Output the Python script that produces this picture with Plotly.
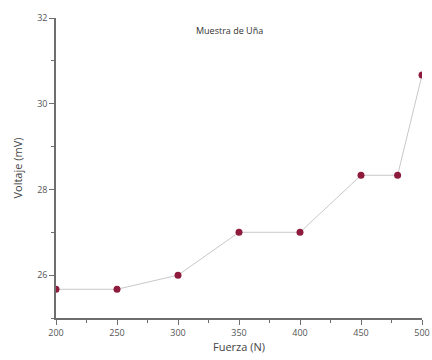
import plotly.graph_objects as go

fuerza = [200, 250, 300, 350, 400, 450, 480, 500]
voltaje = [25.67, 25.67, 26.0, 27.0, 27.0, 28.33, 28.33, 30.67]
x_ticks = [200, 250, 300, 350, 400, 450, 500]
y_ticks = [26, 28, 30, 32]

fig = go.Figure()
fig.add_trace(go.Scatter(
    x=fuerza, y=voltaje, mode="lines+markers",
    line=dict(color="#c8c8c8", width=1),
    marker=dict(color="#8e1b3c", size=7),
    cliponaxis=True,
))

axis_common = dict(
    showgrid=False, zeroline=False, showline=True, linecolor="#6e6e6e", linewidth=1.5,
    ticks="outside", ticklen=5, tickcolor="#6e6e6e", tickwidth=1, automargin=False,
    tickfont=dict(family="Open Sans", size=9, color="#555555"),
)

fig.update_layout(
    width=432, height=360,
    margin=dict(l=56, r=10, t=18, b=42),
    paper_bgcolor="white", plot_bgcolor="white",
    showlegend=False,
    font=dict(family="Open Sans", color="#444444"),
    xaxis=dict(range=[200, 500], tickvals=x_ticks,
               minor=dict(dtick=25, tick0=200, ticks="outside", ticklen=3, tickcolor="#6e6e6e"),
               title=dict(text="Fuerza (N)", font=dict(size=11, color="#444444"), standoff=6),
               **axis_common),
    yaxis=dict(range=[25, 32], tickvals=y_ticks,
               minor=dict(dtick=1, tick0=25, ticks="outside", ticklen=3, tickcolor="#6e6e6e"),
               title=dict(text="Voltaje (mV)", font=dict(size=11, color="#444444"), standoff=12),
               **axis_common),
    annotations=[dict(text="Muestra de Uña", xref="paper", yref="paper", x=0.475, y=0.957,
                      xanchor="center", yanchor="middle",
                      showarrow=False, font=dict(size=9, color="#333333"))],
)

fig.write_html("out.html", config={"displayModeBar": False},
               post_script="document.body.style.margin='0';")
